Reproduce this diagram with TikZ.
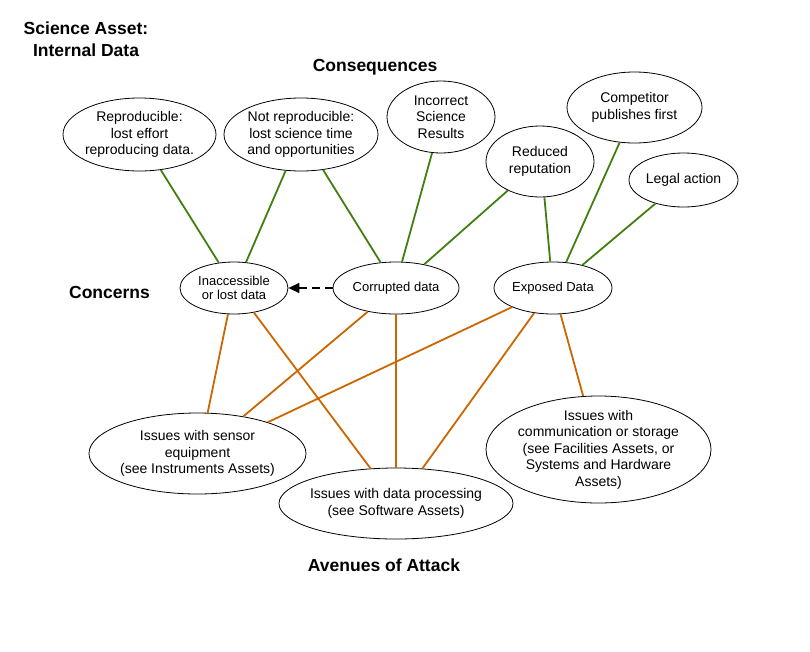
\documentclass[tikz,border=0pt]{standalone}
\usepackage{fontspec}
\setmainfont{Liberation Sans}
\usetikzlibrary{shapes.geometric, arrows.meta}
\definecolor{conseqgreen}{RGB}{64,128,16}
\definecolor{attackorange}{RGB}{204,102,0}
\tikzset{
  bubble/.style={ellipse, draw, line width=0.8pt, inner sep=-6pt, align=center, font=\fontsize{14}{16.5}\selectfont},
  concern/.style={bubble, font=\fontsize{13}{14.5}\selectfont},
  heading/.style={font=\fontsize{17.5}{22}\selectfont\bfseries, align=center},
  consq/.style={conseqgreen, line width=1.8pt},
  attack/.style={attackorange, line width=1.8pt},
}
\begin{document}
\begin{tikzpicture}[x=1pt, y=-1pt]
  \useasboundingbox (0,0) rectangle (810,651);
  % headings
  \node[heading] (title) at (86,39) {Science Asset:\\Internal Data};
  \node[heading] (consequences) at (375,67) {Consequences};
  \node[heading] (concerns) at (109.5,292.5) {Concerns};
  \node[heading] (avenues) at (384,565) {Avenues of Attack};

  % consequences
  \node[bubble, minimum width=153pt, minimum height=73pt] (repro) at (139.5,134.5) {Reproducible:\\lost effort\\reproducing data.};
  \node[bubble, minimum width=154pt, minimum height=73pt] (notrepro) at (301,134.5) {Not reproducible:\\lost science time\\and opportunities};
  \node[bubble, minimum width=108pt, minimum height=72pt] (incorrect) at (441,117) {Incorrect\\Science\\Results};
  \node[bubble, minimum width=108pt, minimum height=71pt] (reputation) at (540,161.5) {Reduced\\reputation};
  \node[bubble, minimum width=135pt, minimum height=71pt] (competitor) at (634.5,107.5) {Competitor\\publishes first};
  \node[bubble, minimum width=109pt, minimum height=54pt] (legal) at (683.5,180) {Legal action};

  % concerns
  \node[concern, minimum width=108pt, minimum height=52pt] (lost) at (234,288) {Inaccessible\\or lost data};
  \node[concern, minimum width=126pt, minimum height=52pt] (corrupted) at (396,288) {Corrupted data};
  \node[concern, minimum width=118pt, minimum height=52pt] (exposed) at (553,288) {Exposed Data};

  % avenues of attack
  \node[bubble, minimum width=217pt, minimum height=81pt] (sensor) at (197.5,453.5) {Issues with sensor\\equipment\\(see Instruments Assets)};
  \node[bubble, minimum width=234pt, minimum height=71pt] (processing) at (396,503.5) {Issues with data processing\\(see Software Assets)};
  \node[bubble, minimum width=225pt, minimum height=107pt] (storage) at (598.5,449.5) {Issues with\\communication or storage\\(see Facilities Assets, or\\Systems and Hardware\\Assets)};

  \draw[-{Triangle[length=11pt,width=10pt]}, line width=1.5pt, dash pattern=on 8pt off 5pt] (corrupted) -- (lost);

  \draw[consq] (repro.-59.5) -- (lost.121.6);
  \draw[consq] (notrepro.-113.7) -- (lost.65.2);
  \draw[consq] (notrepro.-58.9) -- (corrupted.121.6);
  \draw[consq] (incorrect.-104.1) -- (corrupted.77);
  \draw[consq] (reputation.-138.2) -- (corrupted.40.6);
  \draw[consq] (reputation.-83.6) -- (exposed.96.6);
  \draw[consq] (competitor.-113.6) -- (exposed.63.4);
  \draw[consq] (legal.-140.1) -- (exposed.38.7);

  \draw[attack] (lost.-103) -- (sensor.76.5);
  \draw[attack] (lost.-51.6) -- (processing.126.2);
  \draw[attack] (corrupted.-140.4) -- (sensor.39.4);
  \draw[attack] (corrupted.south) -- (processing.north);
  \draw[attack] (exposed.-155.1) -- (sensor.24.3);
  \draw[attack] (exposed.-127.2) -- (processing.53.8);
  \draw[attack] (exposed.-74.9) -- (storage.106.2);
\end{tikzpicture}
\end{document}
